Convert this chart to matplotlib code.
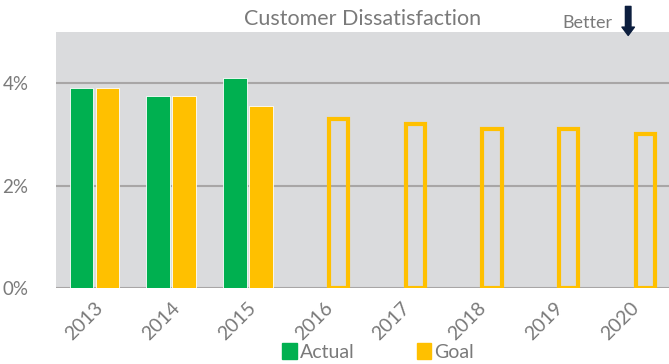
import matplotlib.pyplot as plt
import numpy as np

plt.rcParams['font.family'] = ['Lato', 'DejaVu Sans']

years = ['2013', '2014', '2015', '2016', '2017', '2018', '2019', '2020']
actual = [3.9, 3.75, 4.1]            # 只有前三年有实际值
goal = [3.9, 3.75, 3.55, 3.3, 3.2, 3.1, 3.1, 3.0]
yticks = [0, 2, 4]

green = '#00B050'
yellow = '#FFC000'
txt = '#7A7A7A'

fig = plt.figure(figsize=(6.69, 3.64), dpi=100)
ax = fig.add_axes([0.084, 0.209, 0.916, 0.703])
ax.set_facecolor('#DADBDD')

x = np.arange(len(years))
w = 0.31
off = 0.17
n = len(actual)

ax.bar(x[:n] - off, actual, w, color=green, edgecolor='white', linewidth=0.6, zorder=3)
ax.bar(x[:n] + off, goal[:n], w, color=yellow, edgecolor='white', linewidth=0.6, zorder=3)
# 未来目标画成空心柱
ax.bar(x[n:] + off + 0.02, goal[n:], w - 0.06, facecolor='none', edgecolor=yellow, linewidth=3, zorder=3)

ax.set_xlim(-0.5, len(years) - 0.5)
ax.set_ylim(0, 5)
ax.set_yticks(yticks)
ax.set_yticklabels([f'{t}%' for t in yticks], color=txt, fontsize=13.5)
ax.set_xticks(x)
ax.set_xticklabels(years, rotation=45, ha='right', rotation_mode='anchor', color=txt, fontsize=14)
ax.tick_params(length=0, pad=8)
ax.tick_params(axis='y', pad=20)
for s in ax.spines.values():
    s.set_visible(False)
ax.grid(axis='y', color='#A8A6A6', linewidth=1.5, zorder=1)
ax.set_axisbelow(True)

ax.set_title('Customer Dissatisfaction', color=txt, fontsize=15.5, pad=5)

# 右上角的 Better 和向下箭头
fig.text(0.916, 0.938, 'Better', color=txt, fontsize=13, ha='right', va='center')
ax.annotate('', xy=(0.939, 0.895), xytext=(0.939, 0.99), xycoords='figure fraction',
            arrowprops=dict(arrowstyle='simple,head_width=0.9,head_length=0.6,tail_width=0.4',
                            color='#0C1E3E'))

leg = fig.legend(handles=[plt.Rectangle((0, 0), 1, 1, color=green), plt.Rectangle((0, 0), 1, 1, color=yellow)],
                 labels=['Actual', 'Goal'], loc='lower center', bbox_to_anchor=(0.565, -0.04),
                 ncol=2, frameon=False, fontsize=14, handlelength=0.75, handleheight=0.9,
                 handletextpad=0.15, columnspacing=3.2, labelcolor=txt)

fig.savefig('out.png', dpi=100)
